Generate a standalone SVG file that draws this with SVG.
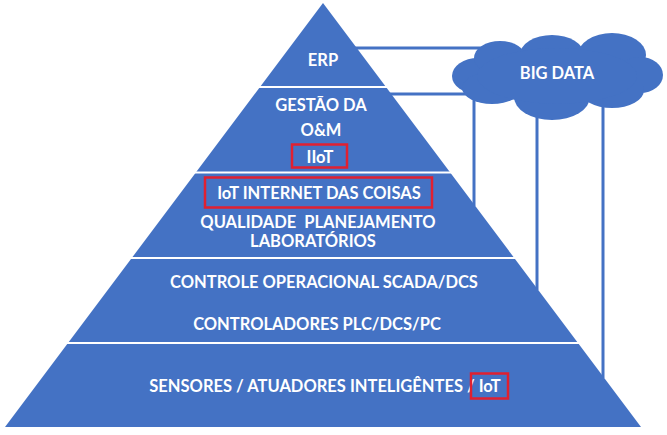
<svg xmlns="http://www.w3.org/2000/svg" width="667" height="435" viewBox="0 0 667 435">
<style>
.t{font-family:Lato,"Open Sans","Liberation Sans",sans-serif;font-weight:bold;font-size:16.5px;fill:#fff;text-anchor:middle;white-space:pre}
.c{stroke:#4472C4;stroke-width:3;fill:none}
.sep{stroke:#fff;stroke-width:2}
.red{fill:none;stroke:#E02030;stroke-width:2.5}
</style>
<rect width="667" height="435" fill="#fff"/>
<g id="connectors">
<line class="c" x1="355" y1="48" x2="490" y2="48"/>
<line class="c" x1="389" y1="94" x2="470" y2="94"/>
<line class="c" x1="474" y1="90" x2="474" y2="206"/>
<line class="c" x1="537" y1="100" x2="537" y2="290"/>
<line class="c" x1="603" y1="95" x2="603" y2="378"/>
</g>
<g id="pyramid">
<polygon points="323,3 641,427 5,427" fill="#4472C4"/>
<line class="sep" x1="258" y1="87" x2="388" y2="87"/>
<line class="sep" x1="194" y1="172.5" x2="452" y2="172.5"/>
<line class="sep" x1="130" y1="258" x2="516" y2="258"/>
<line class="sep" x1="66" y1="343" x2="580" y2="343"/>
</g>
<g id="erp"><text class="t" x="323" y="66">ERP</text></g>
<g id="gestao">
<text class="t" x="321" y="111">GESTÃO DA</text>
<text class="t" x="321" y="136">O&amp;M</text>
<text class="t" x="320" y="163">IIoT</text>
<rect class="red" x="292" y="144.5" width="55" height="23"/>
</g>
<g id="iot">
<text class="t" x="319" y="199">IoT INTERNET DAS COISAS</text>
<rect class="red" x="205" y="177.5" width="227" height="30"/>
<text class="t" x="318" y="228" xml:space="preserve">QUALIDADE  PLANEJAMENTO</text>
<text class="t" x="313" y="247">LABORATÓRIOS</text>
</g>
<g id="controle">
<text class="t" x="324" y="288">CONTROLE OPERACIONAL SCADA/DCS</text>
<text class="t" x="317" y="330">CONTROLADORES PLC/DCS/PC</text>
</g>
<g id="sensores">
<text class="t" x="325" y="392">SENSORES / ATUADORES INTELIGÊNTES / IoT</text>
<rect class="red" x="471" y="373.5" width="37" height="25"/>
</g>
<g id="bigdata" fill="#4472C4">
<ellipse cx="478" cy="76" rx="26" ry="18"/>
<ellipse cx="500" cy="58" rx="26" ry="17"/>
<ellipse cx="552" cy="55" rx="32" ry="20"/>
<ellipse cx="612" cy="55" rx="34" ry="22"/>
<ellipse cx="640" cy="75" rx="23" ry="18"/>
<ellipse cx="612" cy="90" rx="32" ry="18"/>
<ellipse cx="552" cy="97" rx="38" ry="23"/>
<ellipse cx="492" cy="88" rx="30" ry="16"/>
<ellipse cx="557" cy="76" rx="80" ry="28"/>
<text class="t" x="557" y="79">BIG DATA</text>
</g>
</svg>
